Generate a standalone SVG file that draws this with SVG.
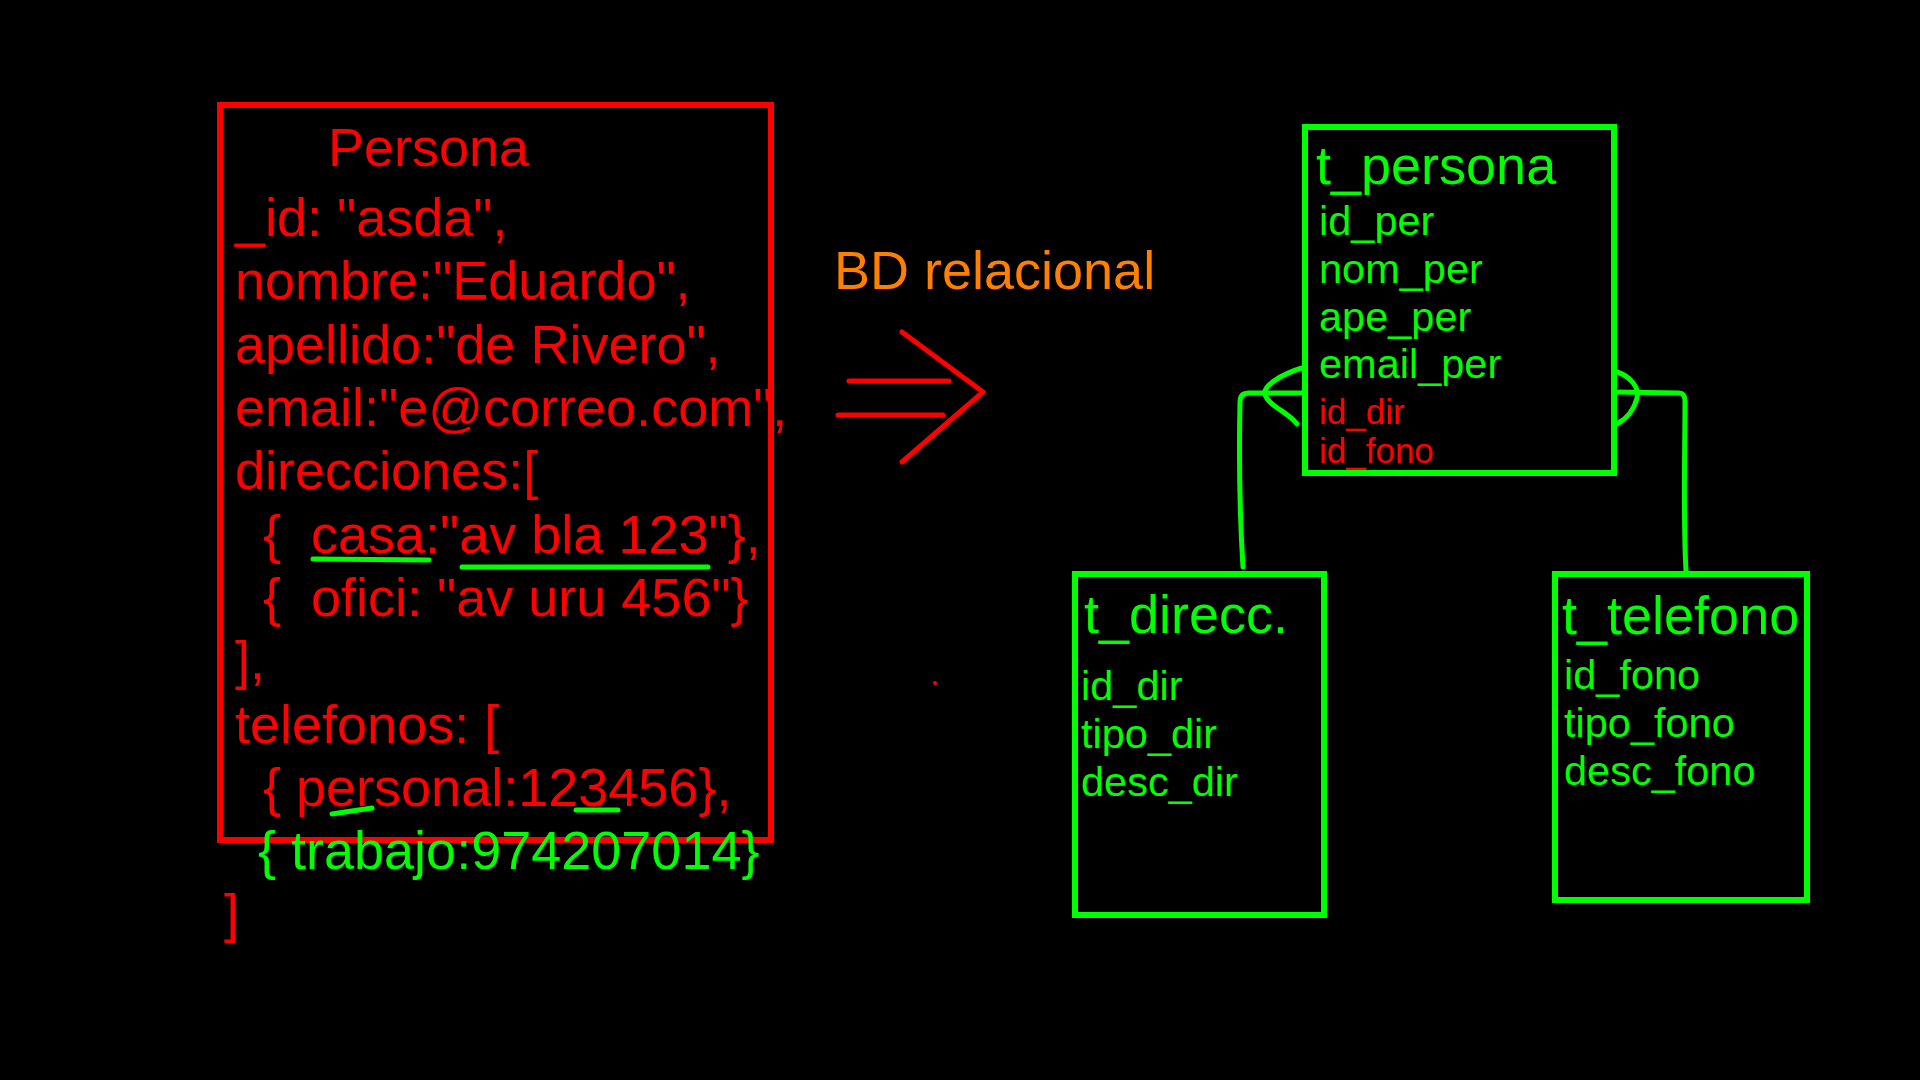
<svg xmlns="http://www.w3.org/2000/svg" width="1920" height="1080" viewBox="0 0 1920 1080">
<style>
text{font-family:"Liberation Sans",Arial,sans-serif;}
.r{fill:#ff0000;font-size:54px;}
.g{fill:#00ff00;}
.o{fill:#ff8000;font-size:54px;}
.box{fill:none;stroke-width:6;}
.rb{stroke:#ff0000;}
.gb{stroke:#00ff00;}
.ln{fill:none;stroke:#00ff00;stroke-width:5;stroke-linecap:round;stroke-linejoin:round;}
.rl{fill:none;stroke:#ff0000;stroke-width:5;stroke-linecap:round;stroke-linejoin:round;}
.title{font-size:54px;}
.fld{font-size:41.5px;}
.fk{fill:#ff0000;font-size:35px;}
</style>
<rect x="0" y="0" width="1920" height="1080" fill="#000000"/>

<g id="persona-doc">
<rect class="box rb" x="220" y="105" width="551" height="735"/>
<text class="r" x="328" y="166">Persona</text>
<text class="r" x="235" y="236">_id: "asda",</text>
<text class="r" x="235" y="299">nombre:"Eduardo",</text>
<text class="r" x="235" y="363">apellido:"de Rivero",</text>
<text class="r" x="235" y="426">email:"e@correo.com",</text>
<text class="r" x="235" y="489">direcciones:[</text>
<text class="r" x="263" y="553" xml:space="preserve">{  casa:"av bla 123"},</text>
<text class="r" x="263" y="616" xml:space="preserve">{  ofici: "av uru 456"}</text>
<text class="r" x="235" y="679">],</text>
<text class="r" x="235" y="743">telefonos: [</text>
<text class="r" x="263" y="806">{ personal:123456},</text>
<text class="g" x="258" y="869" font-size="54">{ trabajo:974207014}</text>
<text class="r" x="224" y="932">]</text>
<path class="ln" d="M313,559 L429,560"/>
<path class="ln" d="M462,567 L708,567"/>
<path class="ln" d="M332,814 L372,808"/>
<path class="ln" d="M576,810 L618,810"/>
</g>

<g id="arrow-label">
<text class="o" x="834" y="289">BD relacional</text>
<path class="rl" d="M849,381 L949,381"/>
<path class="rl" d="M838,415 L943,415"/>
<path class="rl" d="M902,332 L983,392 L902,462"/>
<circle cx="935" cy="683" r="2" fill="#ff0000"/>
</g>

<g id="t_persona">
<rect class="box gb" x="1305" y="127" width="309" height="346"/>
<text class="g title" x="1316" y="184">t_persona</text>
<text class="g fld" x="1319" y="235">id_per</text>
<text class="g fld" x="1319" y="283">nom_per</text>
<text class="g fld" x="1319" y="331">ape_per</text>
<text class="g fld" x="1319" y="378">email_per</text>
<text class="fk" x="1319" y="424">id_dir</text>
<text class="fk" x="1319" y="463">id_fono</text>
</g>

<g id="t_direcc">
<rect class="box gb" x="1075" y="574" width="249" height="341"/>
<text class="g title" x="1084" y="633">t_direcc.</text>
<text class="g fld" x="1081" y="700">id_dir</text>
<text class="g fld" x="1081" y="748">tipo_dir</text>
<text class="g fld" x="1081" y="796">desc_dir</text>
</g>

<g id="t_telefono">
<rect class="box gb" x="1555" y="574" width="252" height="326"/>
<text class="g title" x="1562" y="634">t_telefono</text>
<text class="g fld" x="1564" y="689">id_fono</text>
<text class="g fld" x="1564" y="737">tipo_fono</text>
<text class="g fld" x="1564" y="785">desc_fono</text>
</g>

<g id="connectors">
<path class="ln" d="M1243,567 C1240,520 1239,450 1240,402 Q1240,393 1249,393 L1303,393"/>
<path class="ln" d="M1302,368 C1282,374 1262,386 1265,395 C1270,407 1288,412 1297,424"/>
<path class="ln" d="M1616,392 L1679,393 Q1685,393 1685,401 C1685,450 1683,520 1686,571"/>
<path class="ln" d="M1617,372 C1630,376 1640,388 1637,398 C1634,410 1628,418 1617,424"/>
</g>
</svg>
